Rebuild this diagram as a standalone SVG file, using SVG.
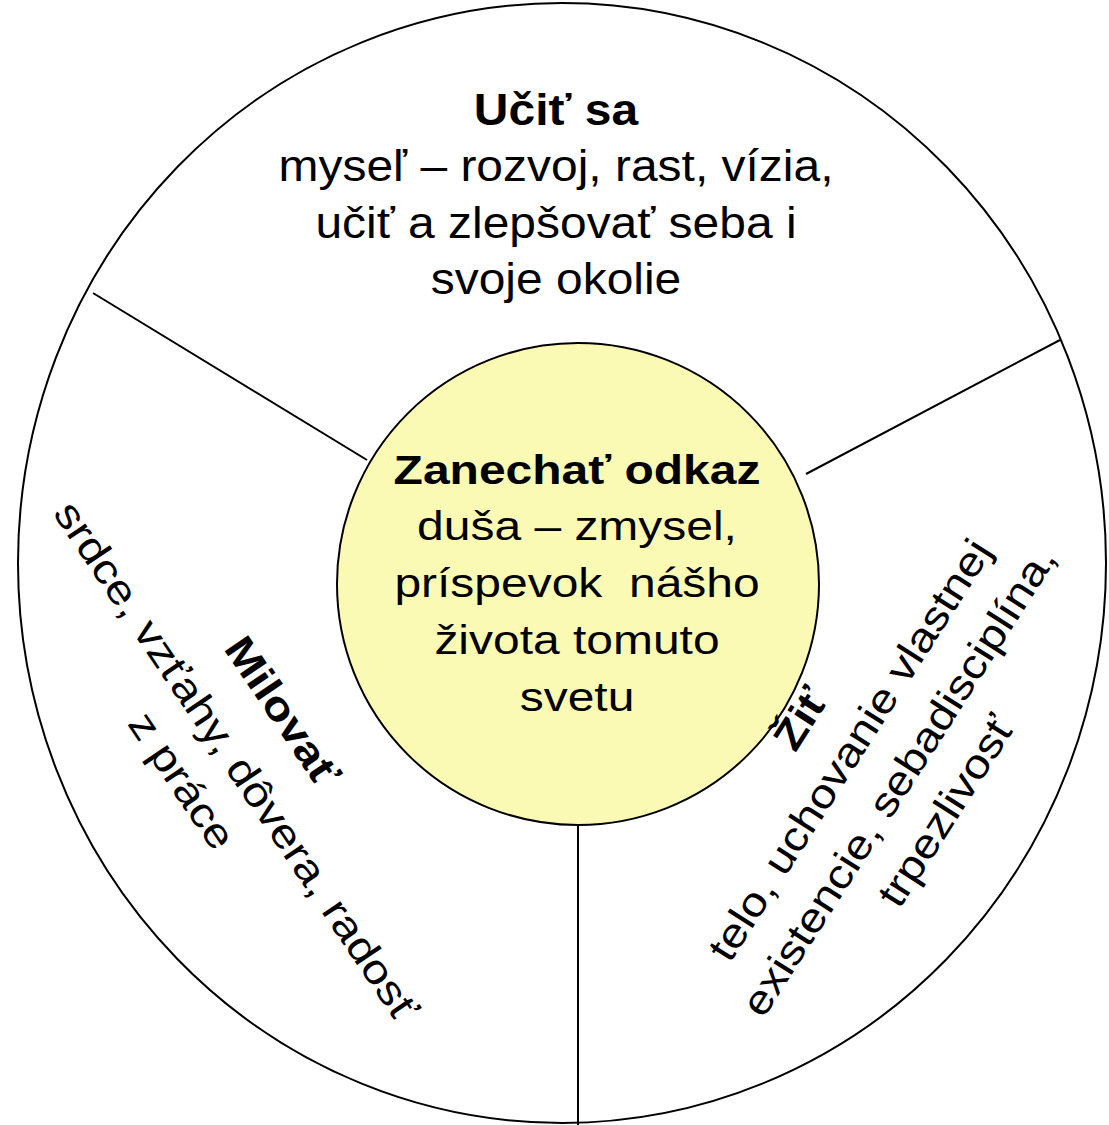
<svg xmlns="http://www.w3.org/2000/svg" width="1109" height="1125" viewBox="0 0 1109 1125">
<style>
text{font-family:"Liberation Sans",Arial,sans-serif;font-size:41px;fill:#000;text-anchor:middle;white-space:pre}
.t text{font-size:44px}
.b{font-weight:bold}
.ln{stroke:#000;stroke-width:2;fill:none}
</style>
<rect width="1109" height="1125" fill="#fff"/>
<g id="outer">
<ellipse cx="562" cy="563" rx="544" ry="560" fill="#fff" stroke="#000" stroke-width="2"/>
</g>
<g id="connectors">
<line class="ln" x1="93" y1="293" x2="367" y2="460"/>
<line class="ln" x1="1060" y1="340" x2="806" y2="474"/>
<line class="ln" x1="578" y1="825" x2="578" y2="1125"/>
</g>
<g id="center">
<circle cx="578" cy="584" r="241" fill="#FAFAB4" stroke="#000" stroke-width="2"/>
<g transform="translate(577,0) scale(1.17,1)">
<text class="b" x="0" y="484">Zanechať odkaz</text>
<text x="0" y="540">duša – zmysel,</text>
<text x="0" y="597">príspevok  nášho</text>
<text x="0" y="654">života tomuto</text>
<text x="0" y="711">svetu</text>
</g>
</g>
<g id="ucit" class="t" transform="translate(556,0) scale(1.09,1)">
<text class="b" x="0" y="125">Učiť sa</text>
<text x="0" y="181">myseľ – rozvoj, rast, vízia,</text>
<text x="0" y="238">učiť a zlepšovať seba i</text>
<text x="0" y="294">svoje okolie</text>
</g>
<g id="milovat" transform="translate(232,751) rotate(56) scale(1.16,1)">
<text class="b" x="-4" y="-50">Milovať</text>
<text x="9" y="16">srdce, vzťahy, dôvera, radosť</text>
<text x="-3" y="72">z práce</text>
</g>
<g id="zit" transform="translate(853,752) rotate(-57.5) scale(1.15,1)">
<text class="b" x="0" y="-48">Žiť</text>
<text x="0" y="10">telo, uchovanie vlastnej</text>
<text x="0" y="68">existencie, sebadisciplína,</text>
<text x="0" y="124">trpezlivosť</text>
</g>
</svg>
